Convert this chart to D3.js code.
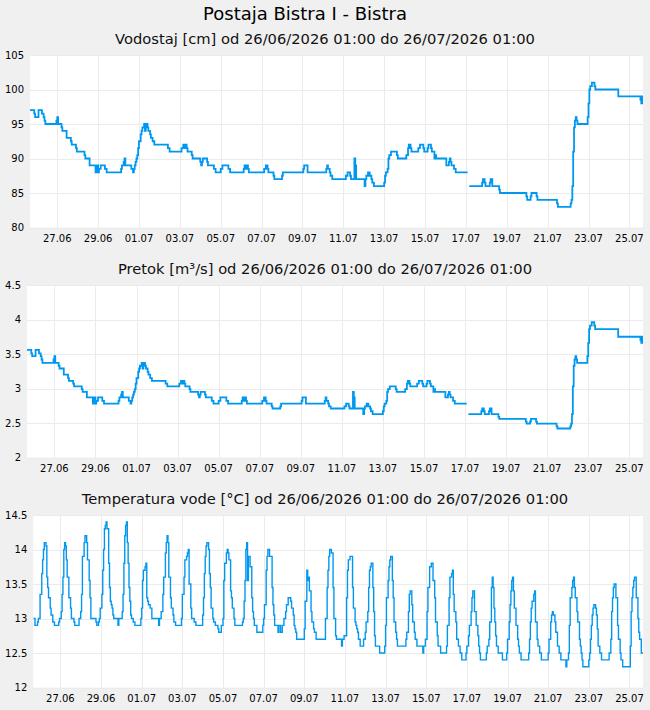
<!DOCTYPE html>
<html><head><meta charset="utf-8">
<script src="https://cdn.jsdelivr.net/npm/d3@7"></script>
<style>
html,body{margin:0;padding:0;background:#f0f0f0;}
svg{display:block;font-family:"DejaVu Sans",sans-serif;}
</style></head><body>
<svg id="c" width="650" height="710"></svg>
<script>
const chartTitle = "Postaja Bistra I - Bistra";
const subtitles = [
  "Vodostaj [cm] od 26/06/2026 01:00 do 26/07/2026 01:00",
  "Pretok [m³/s] od 26/06/2026 01:00 do 26/07/2026 01:00",
  "Temperatura vode [°C] od 26/06/2026 01:00 do 26/07/2026 01:00"
];
// hours since 26/06/2026 01:00 (period = 720 h)
const xTickHours = [32,80,128,176,224,272,320,368,416,464,512,560,608,656,704];
const xTickLabels = ["27.06","29.06","01.07","03.07","05.07","07.07","09.07","11.07","13.07","15.07","17.07","19.07","21.07","23.07","25.07"];

const levelTicks = [80,85,90,95,100,105];
const levelTickLabels = ["80","85","90","95","100","105"];
const flowTicks = [2,2.5,3,3.5,4,4.5];
const flowTickLabels = ["2","2.5","3","3.5","4","4.5"];
const tempTicks = [12,12.5,13,13.5,14,14.5];
const tempTickLabels = ["12","12.5","13","13.5","14","14.5"];

// change points (hour) for level and flow (step series)
const levelHours = [0,5,6,10,14,16,17,18,31,32,33,37,38,43,48,49,54,55,64,65,70,77,78,80,81,83,88,90,107,108,110,111,112,119,121,122,123,124,125,126,127,128,130,131,132,134,135,136,137,138,139,141,142,144,146,162,164,178,180,181,183,184,185,190,191,200,201,202,203,208,209,216,218,224,226,233,235,251,252,254,255,256,257,275,277,279,280,286,287,296,297,321,322,326,348,349,350,352,353,355,371,373,376,377,381,382,383,393,394,395,397,399,401,402,404,416,417,418,420,421,422,424,431,432,442,444,445,447,448,456,458,462,463,467,468,471,472,475,476,477,489,492,493,494,495,498,500,514,514,516,531,532,534,535,540,541,543,551,552,583,584,588,589,595,596,619,620,635,636,637,638,639,640,641,642,643,655,656,657,658,660,663,664,691,717,718,719,720];
const levelValues = [97,96.5,96,97,96.5,96,95.5,95,95.5,96,95,94.5,94,93,92.5,92,91.5,91,90.5,90,89,88,89,88,88.5,89,88.5,88,88.5,89,89.5,90,89,88.5,88,88.5,89,89.5,90,90.5,91.5,92.5,93.5,94,94.5,95,94,94.5,95,94.5,94,93.5,93,92.5,92,91.5,91,91.5,92,91.5,92,91.5,91,90.5,90,89.5,89,89.5,90,89.5,89,88.5,88,88.5,89,88.5,88,88.5,89,88.5,89,88.5,88,88.5,89,88.5,88,87.5,87,87.5,88,88.5,89,88,88.5,89,88.5,88,87.5,87,87.5,88,87.5,87,90,89,87,86,87,87.5,88,87.5,87,86.5,86,86.5,87.5,88,88.5,90,90.5,91,90.5,90,90.5,91.5,92,91.5,91,91.5,92,91.5,91,91.5,92,91.5,91,90,90.5,90,89,89.5,90,89.5,89,88.5,88,88,null,86,86.5,87,86.5,86,86.5,87,86,85.5,85,84.5,84,84.5,85,84.5,84,83.5,83,83.5,84,86,91,94.5,95.5,96,95.5,95,96,98,100,100.5,101,100.5,100,99,98.5,98,99,98.5];
const flowValues = [3.56,3.51,3.47,3.56,3.51,3.47,3.42,3.37,3.42,3.47,3.37,3.33,3.29,3.20,3.15,3.11,3.07,3.03,2.99,2.95,2.87,2.78,2.87,2.78,2.82,2.87,2.82,2.78,2.82,2.87,2.91,2.95,2.87,2.82,2.78,2.82,2.87,2.91,2.95,2.99,3.07,3.15,3.24,3.29,3.33,3.37,3.29,3.33,3.37,3.33,3.29,3.24,3.20,3.15,3.11,3.07,3.03,3.07,3.11,3.07,3.11,3.07,3.03,2.99,2.95,2.91,2.87,2.91,2.95,2.91,2.87,2.82,2.78,2.82,2.87,2.82,2.78,2.82,2.87,2.82,2.87,2.82,2.78,2.82,2.87,2.82,2.78,2.74,2.71,2.74,2.78,2.82,2.87,2.78,2.82,2.87,2.82,2.78,2.74,2.71,2.74,2.78,2.74,2.71,2.95,2.87,2.71,2.63,2.71,2.74,2.78,2.74,2.71,2.67,2.63,2.67,2.74,2.78,2.82,2.95,2.99,3.03,2.99,2.95,2.99,3.07,3.11,3.07,3.03,3.07,3.11,3.07,3.03,3.07,3.11,3.07,3.03,2.95,2.99,2.95,2.87,2.91,2.95,2.91,2.87,2.82,2.78,2.78,null,2.63,2.67,2.71,2.67,2.63,2.67,2.71,2.63,2.59,2.56,2.52,2.49,2.52,2.56,2.52,2.49,2.45,2.42,2.45,2.49,2.63,3.03,3.33,3.42,3.47,3.42,3.37,3.47,3.66,3.86,3.91,3.96,3.91,3.86,3.75,3.70,3.66,3.75,3.70];

const tempHours = [0,2,5,6,8,10,11,12,13,15,16,17,18,20,21,23,25,30,31,33,34,35,36,37,38,39,40,42,44,45,48,49,54,56,57,58,60,61,63,64,66,67,68,74,75,77,78,79,81,82,83,84,85,86,87,89,90,91,92,93,94,95,100,101,105,106,107,108,109,110,111,112,113,114,115,116,118,120,127,128,129,130,132,133,134,135,136,138,140,148,149,151,153,154,156,157,158,159,160,162,163,165,166,168,175,176,178,179,181,182,183,184,186,187,190,192,200,201,202,203,204,205,207,208,209,210,212,213,215,218,219,222,224,225,226,228,229,230,231,233,234,235,237,238,247,248,249,250,251,252,253,254,256,258,259,260,261,264,271,272,273,275,276,277,279,282,283,284,285,289,290,292,294,296,298,299,301,304,305,307,308,309,310,311,320,321,323,324,325,326,328,329,331,332,334,345,347,348,349,350,352,354,355,357,358,364,365,367,370,371,372,374,377,378,380,381,382,383,384,386,390,392,393,395,396,397,398,399,401,402,403,404,409,415,416,417,419,420,421,422,424,425,426,428,429,430,440,441,443,444,445,447,448,450,451,453,460,461,463,465,466,468,470,472,474,475,477,478,481,488,489,491,492,494,495,496,497,499,500,502,504,506,511,512,514,515,517,518,519,521,523,525,526,527,528,535,536,538,539,541,542,543,544,545,546,547,549,554,559,560,562,563,564,565,566,567,568,570,572,573,574,576,585,586,587,588,589,591,592,593,595,596,598,600,608,609,611,612,613,614,616,617,619,621,623,629,630,632,633,634,636,637,638,639,640,642,643,645,646,647,648,649,656,657,658,659,660,661,662,664,665,666,667,669,671,680,682,683,684,685,686,688,690,691,693,694,696,705,706,707,708,709,710,712,714,715,716,718,720];
const tempValues = [13.0,12.9,12.95,13.0,13.35,13.65,13.85,14.0,14.1,14.05,13.6,13.45,13.3,13.15,13.05,12.95,12.9,12.95,13.0,13.1,13.35,13.6,14.0,14.1,14.05,13.85,13.6,13.3,13.15,13.0,12.95,12.9,13.0,13.1,13.35,13.9,14.1,14.2,14.1,13.85,13.55,13.3,13.0,12.95,12.9,12.95,13.0,13.15,13.35,13.7,14.0,14.3,14.35,14.4,14.3,13.8,13.45,13.25,13.2,13.15,13.05,13.0,12.9,13.0,13.1,13.35,13.8,14.2,14.35,14.4,14.1,13.8,13.45,13.25,13.05,13.0,12.95,12.9,13.0,13.15,13.55,13.7,13.75,13.8,13.3,13.25,13.2,13.15,13.0,12.9,13.0,13.1,13.35,13.6,13.95,14.1,14.2,14.1,13.6,13.3,13.15,13.05,12.95,12.9,13.0,13.35,13.6,13.85,13.9,13.95,14.0,13.5,13.15,13.0,12.95,12.9,13.05,13.3,13.65,13.9,14.05,14.1,14.0,13.65,13.45,13.15,13.0,12.95,12.9,12.85,12.8,12.9,13.0,13.55,13.8,13.95,14.0,13.95,13.85,13.4,13.3,13.15,13.0,12.9,12.95,13.0,13.25,13.55,14.0,14.1,13.55,13.9,13.75,13.3,13.1,13.0,12.9,12.8,12.9,13.0,13.2,13.7,13.9,14.0,13.9,13.45,13.2,13.05,12.9,12.8,12.9,12.8,12.9,13.0,13.1,13.2,13.3,13.25,13.15,13.05,12.9,12.85,12.8,12.7,12.85,13.25,13.7,13.55,13.6,13.4,13.1,12.95,12.85,12.8,12.7,13.0,13.45,13.7,13.9,14.0,13.95,13.45,13.0,12.75,12.7,12.6,12.7,12.75,13.3,13.7,13.85,13.9,13.45,13.15,12.95,12.9,12.85,12.8,12.7,12.6,12.7,12.8,12.95,13.1,13.45,13.7,13.75,13.8,13.45,13.1,12.75,12.6,12.5,12.6,12.9,13.3,13.55,13.75,13.85,13.9,13.55,13.3,12.95,12.8,12.7,12.6,12.7,12.8,13.1,13.35,13.4,13.2,12.95,12.8,12.7,12.6,12.5,12.6,12.7,13.1,13.45,13.75,13.8,13.55,13.3,12.95,12.75,12.6,12.5,12.6,12.9,13.3,13.6,13.65,13.7,13.35,13.1,12.95,12.7,12.6,12.5,12.4,12.5,12.6,12.75,12.9,13.1,13.3,13.4,13.1,12.9,12.75,12.6,12.5,12.4,12.5,12.6,12.7,12.95,13.45,13.6,13.45,13.15,12.95,12.75,12.6,12.5,12.4,12.5,12.7,12.95,13.2,13.4,13.55,13.6,13.4,13.15,12.9,12.7,12.6,12.5,12.4,12.5,12.7,12.95,13.15,13.25,13.35,13.4,12.95,12.7,12.6,12.5,12.4,12.5,12.7,12.95,13.05,13.1,13.05,12.95,12.8,12.6,12.5,12.4,12.3,12.4,12.5,12.9,13.3,13.45,13.55,13.6,13.45,13.3,13.1,12.95,12.7,12.6,12.5,12.4,12.3,12.4,12.5,12.7,12.9,13.05,13.15,13.2,13.15,13.05,12.85,12.6,12.5,12.4,12.5,12.7,13.1,13.3,13.45,13.5,13.3,12.9,12.7,12.5,12.4,12.3,12.6,13.1,13.3,13.45,13.55,13.6,13.3,13.0,12.8,12.7,12.5,12.5];

const panels = [
  {sub: subtitles[0], top: 55, bottom: 227.5, left: 30, domain: [80,105], ticks: levelTicks, labels: levelTickLabels, hours: levelHours, values: levelValues, sw: 1.8},
  {sub: subtitles[1], top: 285, bottom: 457.5, left: 27, domain: [2,4.5], ticks: flowTicks, labels: flowTickLabels, hours: levelHours, values: flowValues, sw: 1.8},
  {sub: subtitles[2], top: 515, bottom: 687.5, left: 33.3, domain: [12,14.5], ticks: tempTicks, labels: tempTickLabels, hours: tempHours, values: tempValues, sw: 1.4}
];
const RIGHT = 643;
const LINE_COLOR = "#0098ef";
const GRID = "#ebebeb";

const svg = d3.select("#c");
svg.append("rect").attr("width",650).attr("height",710).attr("fill","#f0f0f0");
svg.append("text").attr("x",305).attr("y",20).attr("text-anchor","middle")
  .attr("font-size",18).attr("fill","#000").text(chartTitle);

panels.forEach((p,i) => {
  const g = svg.append("g");
  const x = d3.scaleLinear().domain([0,720]).range([p.left, RIGHT]);
  const y = d3.scaleLinear().domain(p.domain).range([p.bottom, p.top]);
  g.append("text").attr("x",325).attr("y",p.top-11.5).attr("text-anchor","middle")
    .attr("font-size",14.7).attr("fill","#111").text(p.sub);
  g.append("rect").attr("x",p.left).attr("y",p.top).attr("width",RIGHT-p.left).attr("height",p.bottom-p.top).attr("fill","#fff");
  // gridlines
  g.selectAll("line.h").data(p.ticks).join("line")
    .attr("x1",p.left).attr("x2",RIGHT)
    .attr("y1",d=>Math.round(y(d))+0.5).attr("y2",d=>Math.round(y(d))+0.5)
    .attr("stroke",GRID).attr("stroke-width",1);
  g.selectAll("line.v").data(xTickHours).join("line")
    .attr("y1",p.top).attr("y2",p.bottom)
    .attr("x1",d=>Math.round(x(d))+0.5).attr("x2",d=>Math.round(x(d))+0.5)
    .attr("stroke",GRID).attr("stroke-width",1);
  // y labels
  g.selectAll("text.yl").data(p.ticks).join("text")
    .attr("x",p.left-6).attr("y",d=>y(d)).attr("dy","0.36em")
    .attr("text-anchor","end").attr("font-size",10).attr("fill","#000")
    .text((d,j)=>p.labels[j]);
  // x labels
  g.selectAll("text.xl").data(xTickHours).join("text")
    .attr("x",d=>x(d)).attr("y",p.bottom+14)
    .attr("text-anchor","middle").attr("font-size",10).attr("fill","#000")
    .text((d,j)=>xTickLabels[j]);
  // line
  const clipId = "clip"+i;
  svg.append("clipPath").attr("id",clipId).append("rect")
    .attr("x",p.left).attr("y",p.top-2).attr("width",RIGHT-p.left).attr("height",p.bottom-p.top+4);
  const data = p.hours.map((h,j)=>[h,p.values[j]]);
  const line = d3.line().defined(d=>d[1]!=null).x(d=>x(d[0])).y(d=>y(d[1])).curve(d3.curveStepAfter);
  g.append("path").datum(data).attr("d",line).attr("fill","none")
    .attr("stroke",LINE_COLOR).attr("stroke-width",p.sw).attr("clip-path",`url(#${clipId})`);
});
</script>
</body></html>
